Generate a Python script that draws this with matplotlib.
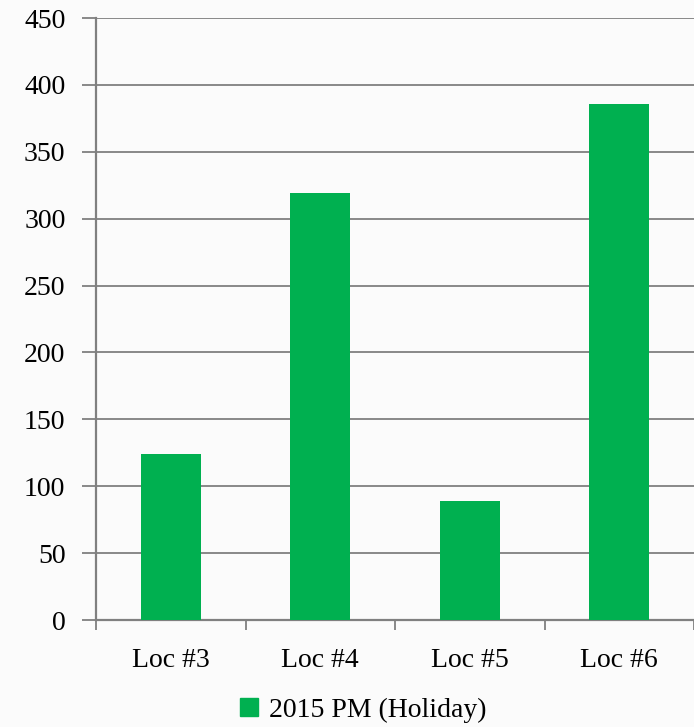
import matplotlib.pyplot as plt
from matplotlib.patches import Patch

locations = ["Loc #3", "Loc #4", "Loc #5", "Loc #6"]
values = [124, 319, 89, 386]
series_name = "2015 PM (Holiday)"

plt.rcParams['font.family'] = ['Liberation Serif', 'DejaVu Serif']

fig = plt.figure(figsize=(6.94, 7.27), dpi=100)
fig.patch.set_facecolor('#fbfbfb')
ax = fig.add_axes([96/694, 1-620/727, 1-96/694, (620-18)/727])
ax.set_facecolor('#fbfbfb')

x = list(range(len(locations)))
ax.bar(x, values, width=0.4, color='#00b050', zorder=3)

ax.set_xlim(-0.5, 3.5)
ax.set_ylim(0, 450)
ax.set_yticks(range(0, 451, 50))
ax.yaxis.grid(True, color='#808080', linewidth=1.3, zorder=0)
ax.tick_params(axis='y', length=10, width=1.3, color='#808080', labelsize=20, pad=12)

ax.set_xticks(x)
ax.set_xticklabels(locations)
ax.tick_params(axis='x', length=0, labelsize=20, pad=20)
ax.set_xticks([-0.5, 0.5, 1.5, 2.5, 3.5], minor=True)
ax.tick_params(axis='x', which='minor', length=7, width=1.3, color='#808080')

for side in ['top', 'right']:
    ax.spines[side].set_visible(False)
for side in ['left', 'bottom']:
    ax.spines[side].set_color('#808080')
    ax.spines[side].set_linewidth(1.6)

handle = Patch(color='#00b050', label=series_name)
fig.legend(handles=[handle], loc='center', bbox_to_anchor=(363/694, 1-710/727),
           frameon=False, fontsize=20, handlelength=0.65, handleheight=0.65,
           handletextpad=0.4, borderaxespad=0, borderpad=0)

fig.savefig('out.png', dpi=100, facecolor=fig.get_facecolor())
